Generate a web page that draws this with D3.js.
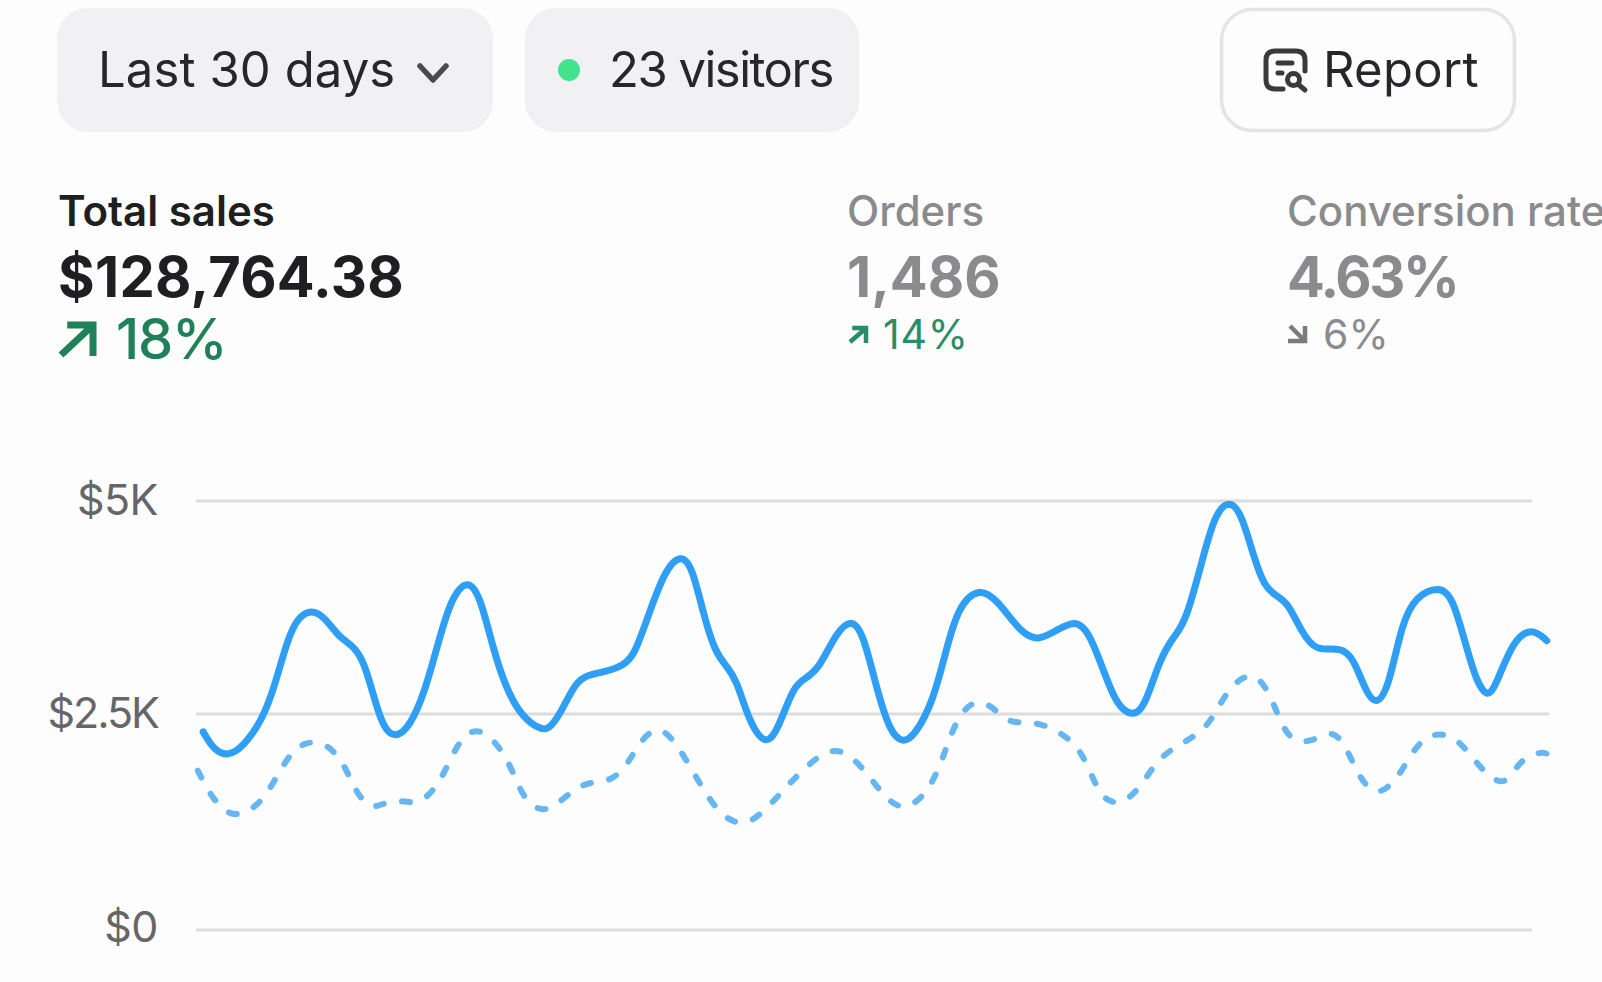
<!DOCTYPE html>
<html><head><meta charset="utf-8">
<script src="https://cdn.jsdelivr.net/npm/d3@7"></script>
<style>html,body{margin:0;padding:0;background:#fdfdfd;overflow:hidden}svg{display:block}text{font-family:Inter,"Noto Sans",sans-serif}</style>
</head><body><svg id="c" width="1602" height="982"></svg>
<script>
const salesDays=[0.16,0.40,0.71,1.04,1.47,1.75,2.03,2.26,2.56,2.86,3.17,3.49,3.73,3.97,4.17,4.40,4.72,5.08,5.39,5.68,6.03,6.30,6.59,6.85,7.21,7.69,7.87,8.10,8.42,8.69,9.05,9.49,9.73,10.00,10.40,10.75,11.00,11.26,11.51,11.75,11.98,12.26,12.62,12.89,13.25,13.53,13.81,14.20,14.53,14.79,15.11,15.39,15.67,15.94,16.34,16.62,16.90,17.37,17.76,18.31,18.67,19.02,19.50,19.81,20.16,20.42,20.77,21.04,21.37,21.69,21.95,22.37,22.61,22.91,23.18,23.45,23.68,23.95,24.21,24.52,24.83,25.40,25.67,25.94,26.17,26.44,26.74,27.05,27.58,27.86,28.12,28.39,28.65,28.85,29.20,29.62,29.95];
const salesValues=[2293,2078,2010,2118,2428,2836,3380,3633,3730,3633,3400,3302,3112,2646,2331,2225,2331,2762,3380,3885,4085,3885,3263,2836,2467,2300,2351,2526,2875,2960,2992,3069,3205,3613,4196,4375,4234,3652,3228,3069,2914,2413,2130,2296,2836,2922,3030,3458,3620,3458,2759,2293,2160,2253,2642,3225,3768,3985,3846,3438,3365,3462,3615,3458,2952,2603,2465,2584,3147,3418,3575,4429,4857,5015,4857,4351,4001,3885,3808,3458,3230,3290,3147,2759,2600,2797,3575,3885,4005,3866,3380,2875,2680,2875,3360,3520,3360];
const priorDays=[0.04,0.40,0.84,1.35,1.71,2.00,2.39,2.90,3.29,3.53,3.89,4.37,4.92,5.35,5.63,5.91,6.30,6.78,7.06,7.29,7.74,8.22,8.66,9.21,9.59,9.88,10.28,10.68,11.00,11.31,11.66,12.16,12.63,13.03,13.45,13.92,14.36,14.83,15.19,15.64,16.12,16.42,16.63,16.83,17.17,17.62,18.00,18.56,19.11,19.58,19.85,20.12,20.58,21.00,21.34,21.84,22.37,22.67,22.99,23.46,23.81,24.00,24.27,24.75,25.21,25.54,25.79,26.17,26.63,26.94,27.32,27.86,28.24,28.62,29.05,29.35,29.84,29.95];
const priorValues=[1845,1480,1290,1420,1690,1981,2190,2170,1920,1610,1365,1540,1430,1660,1962,2253,2350,2098,1790,1495,1335,1560,1720,1710,1930,2214,2380,2136,1850,1575,1315,1190,1390,1625,1850,2066,2095,1850,1590,1365,1530,1800,2098,2389,2660,2625,2378,2420,2311,2118,1800,1490,1450,1700,1989,2156,2311,2584,2860,3010,2739,2467,2180,2170,2340,2078,1770,1530,1740,2040,2280,2265,2040,1790,1655,1981,2066,2040];
const tickValues=[0,2500,5000];
const tickLabels=["$0","$2.5K","$5K"];
const metricLabels=["Total sales","Orders","Conversion rate"];
const metricValues=["$128,764.38","1,486","4.63%"];
const metricChanges=["18%","14%","6%"];
const metricDirections=["up","up","down"];

const svg=d3.select("#c");
const y=d3.scaleLinear().domain([0,2500,5000]).range([930,714,501]);
const x=d3.scaleLinear().domain([0,30]).range([196,1549]);

// top controls
function pill(xp,w,fill,stroke){svg.append("rect").attr("x",xp).attr("y",stroke?9.5:8).attr("width",w).attr("height",stroke?121:124).attr("rx",31).attr("fill",fill).attr("stroke",stroke||"none").attr("stroke-width",stroke?3.5:0);}
pill(57,436,"#f1f1f3");
pill(525,334,"#f1f1f3");
pill(1221.5,293,"#fdfdfd","#e4e4e6");
const ctl=svg.append("g").attr("font-size",49).attr("fill","#27272a");
ctl.append("text").attr("x",98).attr("y",87).attr("letter-spacing",0.1).text("Last 30 days");
ctl.append("text").attr("x",609).attr("y",87).attr("letter-spacing",-1.5).text("23 visitors");
ctl.append("text").attr("x",1323).attr("y",87).attr("letter-spacing",0.3).text("Report");
svg.append("path").attr("d","M420 66L433 80L446 66").attr("fill","none").attr("stroke","#4b4b4f").attr("stroke-width",5.5).attr("stroke-linecap","round").attr("stroke-linejoin","round");
svg.append("circle").attr("cx",569).attr("cy",70).attr("r",11).attr("fill","#42e38d");
// report icon
const ic=svg.append("g").attr("fill","none").attr("stroke","#3a3a3d").attr("stroke-width",5).attr("stroke-linecap","round").attr("stroke-linejoin","round");
ic.append("path").attr("d","M1283 89H1275Q1266 89 1266 80V60Q1266 51 1275 51H1296Q1305 51 1305 60V71");
ic.append("path").attr("d","M1278 63H1292M1278 73H1282");
ic.append("circle").attr("cx",1293.5).attr("cy",79.5).attr("r",6);
ic.append("path").attr("d","M1299 85L1305 90");

// metrics
const metricX=[58,847,1287];
const labelColor=["#1f1f22","#8b8b8e","#8b8b8e"];
const valueSpacing=[0.3,0,-2.4];
const changeSpacing=[-1.2,0.8,0];
metricLabels.forEach((m,i)=>{
 svg.append("text").attr("x",metricX[i]).attr("y",226).attr("font-size",i==0?42:42).attr("font-weight",i==0?600:500).attr("fill",labelColor[i]).text(m);
 svg.append("text").attr("x",metricX[i]).attr("y",297).attr("font-size",56).attr("letter-spacing",valueSpacing[i]).attr("font-weight",700).attr("fill",labelColor[i]).text(metricValues[i]);
 const big=i==0;
 const cc=metricDirections[i]=="up"?(big?"#1f8059":"#2b8c69"):"#8b8b8e";
 const ax=metricX[i]+1;
 svg.append("text").attr("x",big?116:metricX[i]+36).attr("y",big?359:349).attr("font-size",big?56:41).attr("letter-spacing",changeSpacing[i]).attr("fill",cc).attr("font-weight",big?500:400).text(metricChanges[i]);
 const g=svg.append("g").attr("fill","none").attr("stroke",metricDirections[i]=="up"?cc:"#7c7c80").attr("stroke-width",big?7:4.5);
 if(metricDirections[i]=="up"){
  const oy=big?356:343, h=big?33:17;
  g.append("path").attr("d",`M${ax+2} ${oy-1}L${ax+h} ${oy-h+3}M${ax+h*0.25} ${oy-h+2}H${ax+h+1}V${oy}`);
 } else {
  g.append("path").attr("d",`M${ax+2} ${326}L${ax+17} ${341}M${ax} ${341}H${ax+17}V${326}`);
 }
});

// chart
const gridEnds=[1532,1549,1532];
const tickSpacing=[-0.5,-2,-0.5];
const tickShift=[12,14,14];
tickValues.forEach((t,i)=>{
 svg.append("line").attr("x1",196).attr("x2",gridEnds[i]).attr("y1",y(t)).attr("y2",y(t)).attr("stroke","#dcdcde").attr("stroke-width",3);
 svg.append("text").attr("x",158).attr("y",y(t)+tickShift[i]).attr("text-anchor","end").attr("font-size",43).attr("letter-spacing",tickSpacing[i]).attr("fill","#66666a").text(tickLabels[i]);
});
const line=d3.line().x(d=>x(d[0])).y(d=>y(d[1])).curve(d3.curveBasis);
svg.append("path").datum(d3.zip(priorDays,priorValues)).attr("d",line).attr("fill","none").attr("stroke","#66b6f3").attr("stroke-width",6).attr("stroke-linecap","round").attr("stroke-dasharray","8 18.5");
svg.append("path").datum(d3.zip(salesDays,salesValues)).attr("d",line).attr("fill","none").attr("stroke","#2f9ff5").attr("stroke-width",7).attr("stroke-linecap","round");
</script></body></html>
